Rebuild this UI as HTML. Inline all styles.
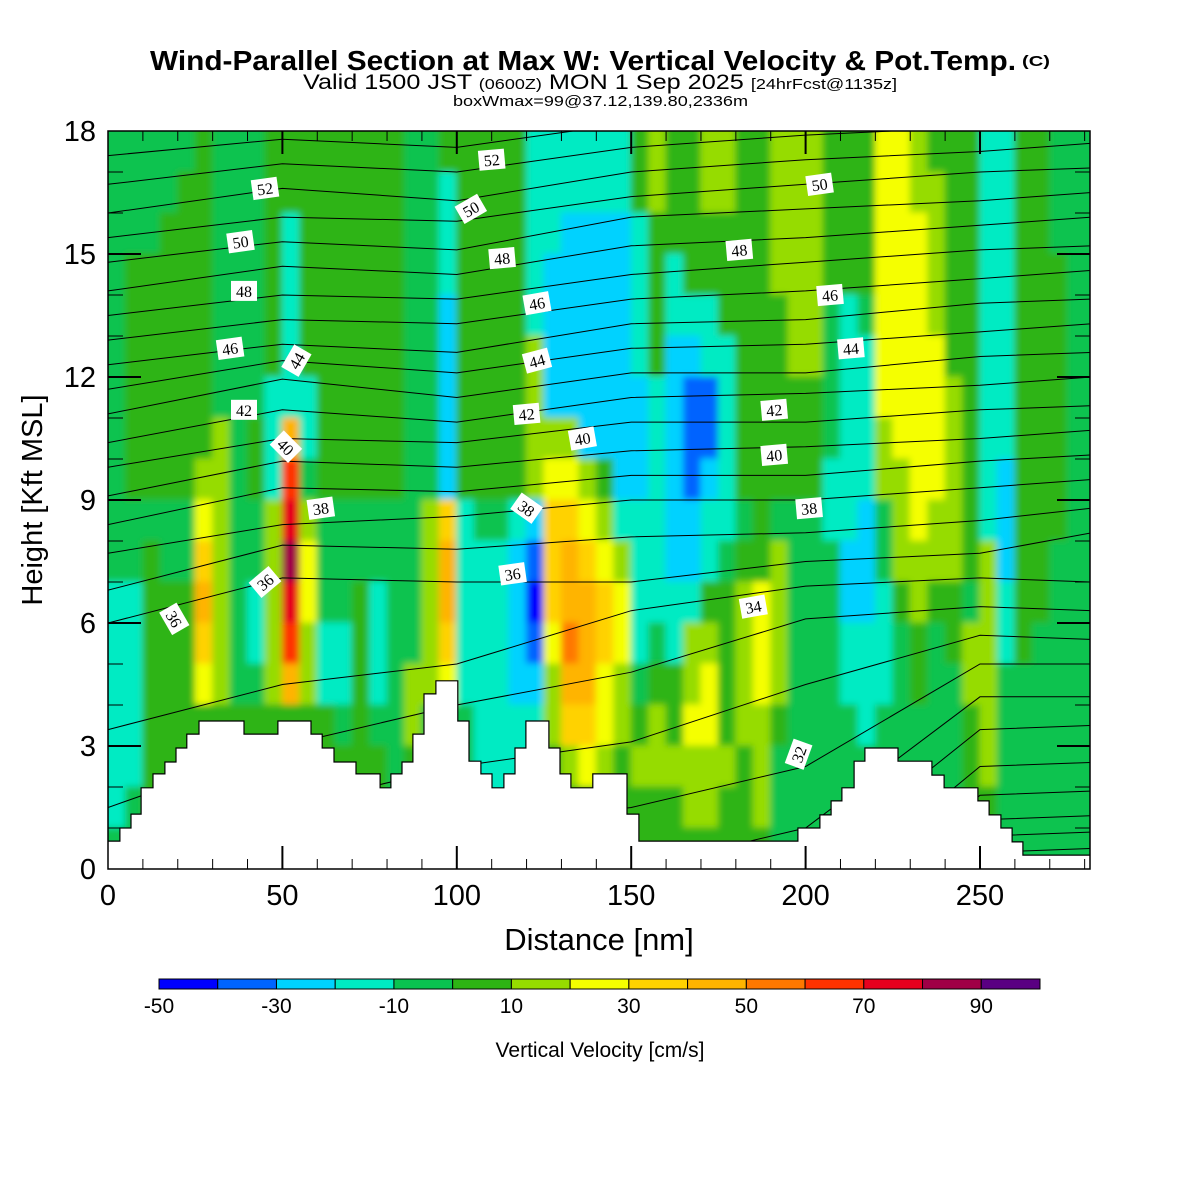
<!DOCTYPE html>
<html><head><meta charset="utf-8"><title>Wind-Parallel Section</title>
<style>html,body{margin:0;padding:0;background:#fff;}svg{display:block;}</style></head>
<body>
<svg id="chart" xmlns="http://www.w3.org/2000/svg" width="1200" height="1200" viewBox="0 0 1200 1200" font-family="'Liberation Sans', sans-serif">
<rect x="0" y="0" width="1200" height="1200" fill="#fff"/>
<g>
<text x="150" y="70" font-size="28" font-weight="bold" textLength="866" lengthAdjust="spacingAndGlyphs">Wind-Parallel Section at Max W: Vertical Velocity &amp; Pot.Temp.</text>
<text x="1022" y="66" font-size="15" font-weight="bold" textLength="28" lengthAdjust="spacingAndGlyphs">(C)</text>
<text x="303" y="89" font-size="21" textLength="594" lengthAdjust="spacingAndGlyphs">Valid 1500 JST <tspan font-size="15">(0600Z)</tspan> MON 1 Sep 2025 <tspan font-size="15">[24hrFcst@1135z]</tspan></text>
<text x="453" y="106" font-size="15" textLength="295" lengthAdjust="spacingAndGlyphs">boxWmax=99@37.12,139.80,2336m</text>
</g>
<defs>
<clipPath id="plotclip"><rect x="108" y="131" width="982" height="738"/></clipPath>
<filter id="soft" filterUnits="userSpaceOnUse" x="90" y="110" width="1020" height="780"><feGaussianBlur stdDeviation="3.5"/></filter>
</defs>
<g clip-path="url(#plotclip)">
<g id="field" filter="url(#soft)"></g>
<g id="isentropes"></g>
<path id="terrain" fill="#fff" stroke="none"/>
<path id="terrainLine" fill="none" stroke="#000" stroke-width="1.2"/>
<g id="clabels"></g>
</g>
<g id="axes"></g>
<text x="599" y="950" font-size="31" text-anchor="middle">Distance [nm]</text>
<text transform="translate(42,500) rotate(-90)" font-size="29" text-anchor="middle">Height [Kft MSL]</text>
<g id="colorbar"></g>
<text x="600" y="1057" font-size="21" text-anchor="middle">Vertical Velocity [cm/s]</text>
</svg>
<script>
// ---- data ----
const colorLevels = [-50,-40,-30,-20,-10,0,10,20,30,40,50,60,70,80,90,100];
const palette = ["#0000ff","#0064ff","#00d2ff","#00ebc3","#0ac350","#2db414","#96dc00","#f5ff00","#ffd200","#ffb400","#ff7800","#ff3200","#e6001e","#a00046","#5a0082"];
const colorbarLabels = [-50,-30,-10,10,30,50,70,90];
const colStepNm = 5;
// vertical velocity class per 5-nm column, rows top(18 kft) -> bottom(0 kft), 1 kft each
const wCols = [
"444444444443333334","444555555443333344","444555555455555554","445555555445555555","455555555445555555",
"555555556789875555","444444466666665555","444444444444445555","444444455443345555","555555333666665555",
"55333339bcdcb95555","555555334677665555","555555555444335555","555555555444334555","555555555445555555",
"555555555443334555","555555555444444445","444444444444466555","444444444666664444","533322222899874444",
"555555555333334444","555555555433333334","555555555433333334","555555555322223334","333336666210123333",
"333222267888766555","332222267899a98655","332222226789998755","332222225678877655","332222222367766555",
"553333222333345655","665555333333456655","555332222223355655","555532111223667665","665533112335677665",
"665553333345555655","555555555456666555","555555555557776665","666655555466665444","666666555444444444",
"666666555444444444","555544443344444444","555533333322334444","555543333222333444","777777766443334444",
"777777776665444444","667777777766554444","566667777665444444","555555666665544444","555555555554665555",
"333333333366666655","333333332223344444","555555555555544444","555555555555444444","444555555544444444",
"444444444444444444","444444444444444444"];
const terrainX = [0,3.4,6.6,9.5,12.9,16.3,19.5,22.6,26.1,39.0,48.7,58.2,61.4,64.8,71.1,78.0,81.1,84.3,87.4,90.6,94.0,100.3,103.5,106.9,110.1,113.5,116.7,119.8,126.4,129.6,132.7,139.0,148.8,152.2,197.8,204.1,207.3,210.4,213.9,217.0,226.5,236.2,239.7,249.4,252.6,256.0,259.2,262.3];
const terrainH = [0.68,1.0,1.34,1.98,2.32,2.61,2.95,3.29,3.61,3.29,3.61,3.29,2.95,2.61,2.32,1.98,2.32,2.61,3.29,4.27,4.59,3.61,2.63,2.32,1.98,2.32,2.95,3.61,2.95,2.32,1.98,2.32,1.34,0.68,1.0,1.32,1.66,1.98,2.63,2.95,2.63,2.29,1.98,1.66,1.32,1.0,0.66,0.34];
const terrainEnd = 281.5;
const thetaAnchorsNm = [0,50,100,150,200,250,282];
const thetaLevels = [54,53,52,51,50,49,48,47,46,45,44,43,42,41,40,39,38,37,36,35,34,33,32,31,30,29,28,27,26,25];
const thetaHeights = [
[18.1,18.4,18.2,18.8,19.1,19.3,19.5],[17.4,17.8,17.6,18.2,18.5,18.7,18.9],[16.7,17.2,17.0,17.6,17.9,18.1,18.3],
[16.0,16.6,16.3,17.0,17.3,17.5,17.7],[15.4,15.9,15.8,16.4,16.7,17.0,17.1],[14.8,15.3,15.1,15.9,16.1,16.3,16.5],
[14.1,14.7,14.5,15.2,15.4,15.7,15.9],[13.5,14.0,13.9,14.5,14.8,15.1,15.2],[12.9,13.4,13.3,13.9,14.1,14.4,14.6],
[12.3,12.8,12.6,13.3,13.4,13.8,13.9],[11.7,12.4,12.1,12.7,12.8,13.1,13.3],[11.1,11.95,11.5,12.1,12.1,12.5,12.6],
[10.4,11.2,10.9,11.5,11.6,11.8,12.0],[9.8,10.5,10.4,10.9,10.9,11.2,11.3],[9.1,9.95,9.8,10.2,10.3,10.5,10.7],
[8.4,9.3,9.2,9.6,9.6,9.95,10.1],[7.7,8.4,8.6,9.0,9.0,9.3,9.5],[6.8,7.9,7.8,8.1,8.2,8.5,8.8],
[6.0,7.1,7.0,7.0,7.5,7.7,8.2],[3.4,4.5,5.0,6.3,6.9,7.1,7.0],[1.5,3.0,4.0,4.8,6.1,6.4,6.3],
[0.0,1.5,2.5,3.1,4.5,5.7,5.6],[-1,0,1,1.5,2.5,5.0,5.0],[-2,-1,0,0,1.0,4.2,4.2],
[-3,-2,-1,-1,0,3.4,3.5],[-4,-3,-2,-2,-1,2.5,2.6],[-5,-4,-3,-3,-2,1.8,1.9],
[-6,-5,-4,-4,-3,1.2,1.3],[-7,-6,-5,-5,-4,0.8,0.9],[-8,-7,-6,-6,-5,0.4,0.5]];
const labelValues = [52,50,48,46,42,44,40,38,36,36,52,50,48,46,44,42,40,38,36,34,32,50,48,46,44,42,40,38];
const labelNm = [45,38,39,35,39,54,51,61,45,19,110,104,113,123,123,120,136,120,116,185,198,204,181,207,213,191,191,201];
const labelKft = [16.6,15.3,14.1,12.7,11.2,12.4,10.3,8.8,7.0,6.1,17.3,16.1,14.9,13.8,12.4,11.1,10.5,8.8,7.2,6.4,2.8,16.7,15.1,14.0,12.7,11.2,10.1,8.8];
const labelRot = [-8,-8,0,-8,0,-60,45,-8,-40,60,-5,-30,-5,-10,-15,-5,-10,35,-8,-10,-70,-8,-5,-5,-5,-5,-5,-5];
const xTicks = [0,50,100,150,200,250];
const yTicks = [0,3,6,9,12,15,18];

// ---- scales ----
const X0=108, PX_PER_NM=3.488, Y0=869, PX_PER_KFT=41;
const xs = nm => X0 + nm*PX_PER_NM;
const ys = k => Y0 - k*PX_PER_KFT;
const NS="http://www.w3.org/2000/svg";
function mk(tag, attrs, parent){const e=document.createElementNS(NS,tag);for(const k in attrs)e.setAttribute(k,attrs[k]);parent.appendChild(e);return e;}

// field (edge cells extended outward so the blur does not fade at the frame)
const field=document.getElementById('field');
const nCols=wCols.length;
wCols.forEach((col,i)=>{
  for(let r=0;r<col.length;r++){
    const idx=parseInt(col[r],16);
    let x=xs(i*colStepNm)-0.5, w=colStepNm*PX_PER_NM+1, y=ys(18-r)-0.5, h=PX_PER_KFT+1;
    if(i===0){x-=15;w+=15;}
    if(i===nCols-1){w+=15;}
    if(r===0){y-=15;h+=15;}
    if(r===col.length-1){h+=15;}
    const c=mk('rect',{x:x,y:y,width:w,height:h,fill:palette[idx]},field);
    
    
  }
});

// isentropes
const iso=document.getElementById('isentropes');
thetaLevels.forEach((lv,j)=>{
  const hs=thetaHeights[j];
  const pts=thetaAnchorsNm.map((nm,k)=>xs(nm).toFixed(1)+','+ys(hs[k]).toFixed(1)).join(' ');
  const pl=mk('polyline',{points:pts,fill:'none',stroke:'#000','stroke-width':1},iso);
  
  
});

// terrain
let d='M'+xs(0)+','+Y0, dl='';
terrainX.forEach((x0,i)=>{
  const x1=(i<terrainX.length-1)?terrainX[i+1]:terrainEnd;
  const y=ys(terrainH[i]);
  d+=' L'+xs(x0).toFixed(1)+','+y.toFixed(1)+' L'+xs(x1).toFixed(1)+','+y.toFixed(1);
  dl+=(i===0?'M':' L')+xs(x0).toFixed(1)+','+y.toFixed(1)+' L'+xs(x1).toFixed(1)+','+y.toFixed(1);
});
d+=' L'+xs(terrainEnd)+','+Y0+' Z';
document.getElementById('terrain').setAttribute('d',d);
document.getElementById('terrainLine').setAttribute('d',dl);

// contour labels
const cl=document.getElementById('clabels');
labelValues.forEach((v,i)=>{
  const g=mk('g',{transform:'translate('+xs(labelNm[i]).toFixed(1)+','+ys(labelKft[i]).toFixed(1)+') rotate('+labelRot[i]+')'},cl);
  
  
  mk('rect',{x:-13,y:-10,width:26,height:20,fill:'#fff'},g);
  const t=mk('text',{x:0,y:6,'font-size':16,'text-anchor':'middle','font-family':"'Liberation Serif', serif"},g);
  t.textContent=v;
});

// axes
const ax=document.getElementById('axes');
const frame=mk('rect',{x:108,y:131,width:982,height:738,fill:'none',stroke:'#000','stroke-width':1.5},ax);


for(let nm=10;nm<=280;nm+=10){
  const major=(nm%50===0), L=major?23:10, x=xs(nm);
  const t1=mk('line',{x1:x,y1:Y0,x2:x,y2:Y0-L,stroke:'#000','stroke-width':major?2:1},ax);
  
  
  const t2=mk('line',{x1:x,y1:131,x2:x,y2:131+L,stroke:'#000','stroke-width':major?2:1},ax);
  
  
}
for(let k=1;k<18;k++){
  const major=(k%3===0), L=major?33:15, y=ys(k);
  const t1=mk('line',{x1:108,y1:y,x2:108+L,y2:y,stroke:'#000','stroke-width':major?2:1},ax);
  
  
  const t2=mk('line',{x1:1090,y1:y,x2:1090-L,y2:y,stroke:'#000','stroke-width':major?2:1},ax);
  
  
}
xTicks.forEach(v=>{
  const t=mk('text',{x:xs(v),y:905,'font-size':29,'text-anchor':'middle'},ax);
  
  
  t.textContent=v;
});
yTicks.forEach(v=>{
  const t=mk('text',{x:96,y:ys(v)+10,'font-size':29,'text-anchor':'end'},ax);
  
  
  t.textContent=v;
});

// colorbar
const cb=document.getElementById('colorbar');
const cbX0=159, cbX1=1040, cbW=(cbX1-cbX0)/palette.length;
palette.forEach((c,i)=>{
  const r=mk('rect',{x:cbX0+i*cbW,y:979,width:cbW,height:10,fill:c,stroke:'#000','stroke-width':1},cb);
  
  
});
colorbarLabels.forEach(v=>{
  const i=colorLevels.indexOf(v);
  const t=mk('text',{x:cbX0+i*cbW,y:1013,'font-size':21,'text-anchor':'middle'},cb);
  
  
  t.textContent=v;
});
</script>
</body></html>
